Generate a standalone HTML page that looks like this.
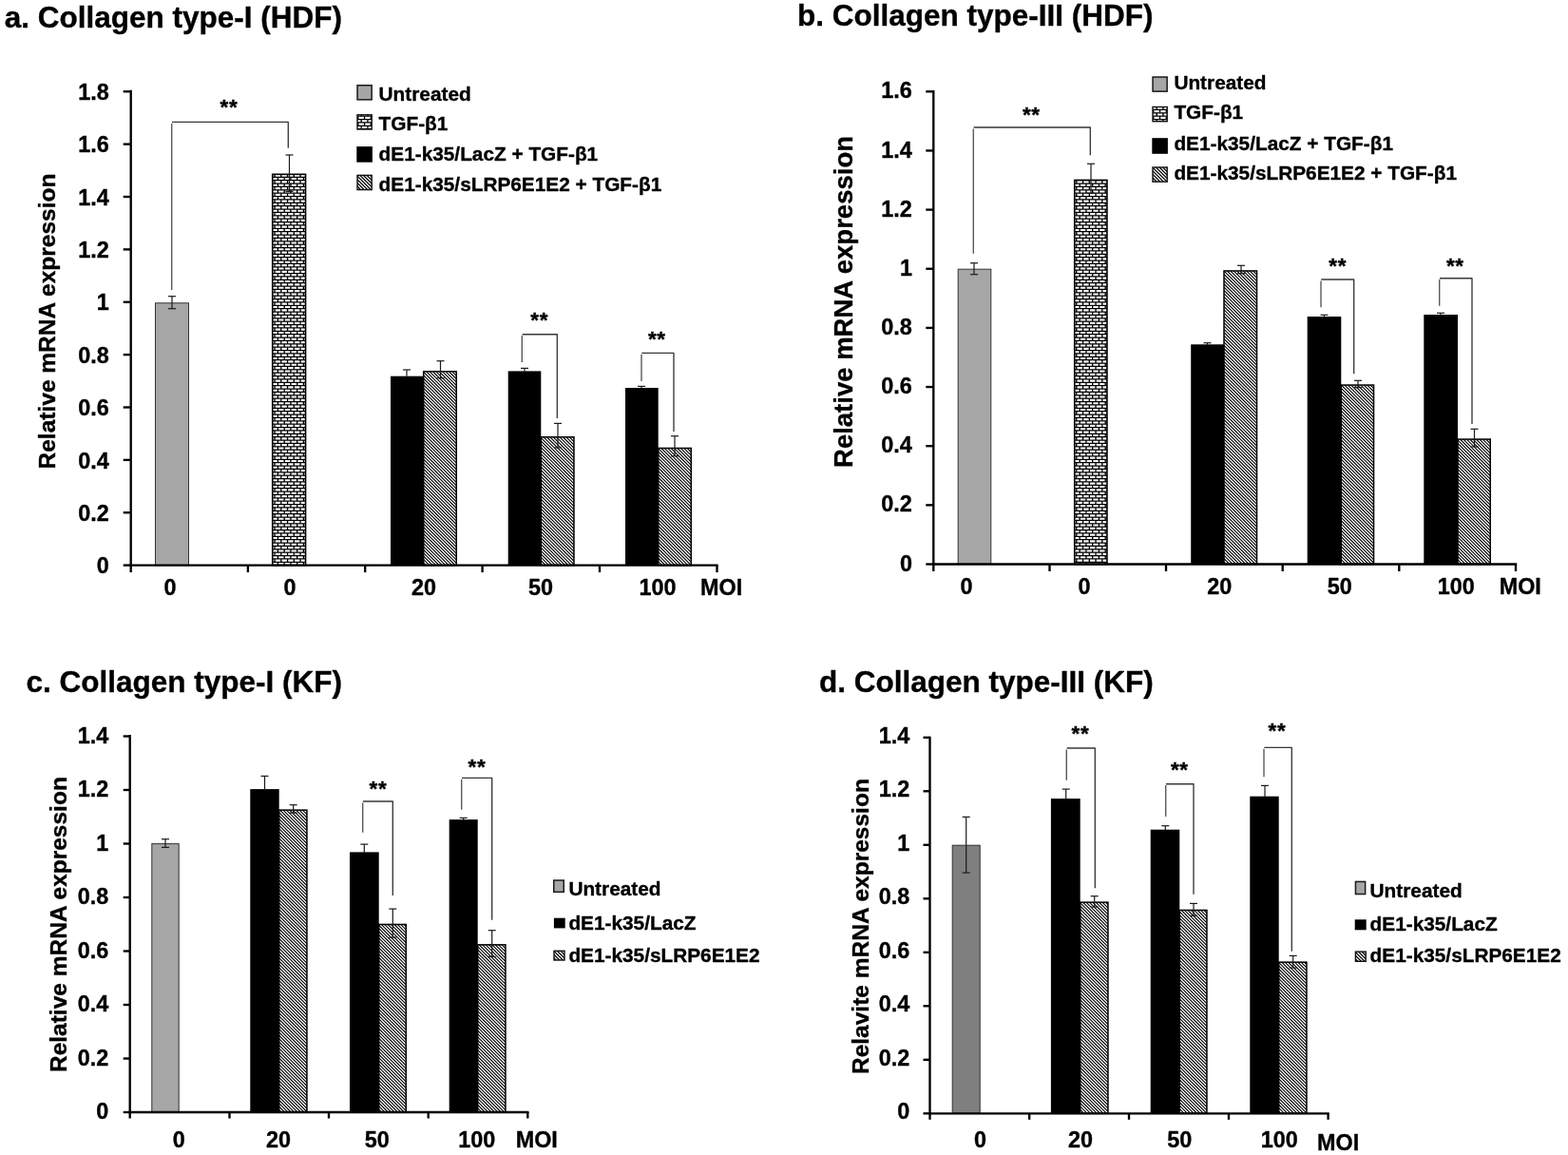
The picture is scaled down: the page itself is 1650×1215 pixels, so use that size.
<!DOCTYPE html>
<html lang="en">
<head>
<meta charset="utf-8">
<title>Collagen mRNA expression</title>
<style>
html,body{margin:0;padding:0;background:#fff;}
body{width:1650px;height:1215px;overflow:hidden;}
svg{display:block;}
svg text{font-family:'Liberation Sans', sans-serif;font-weight:bold;fill:#000;stroke:#000;stroke-width:0.36px;stroke-linejoin:round;}
</style>
</head>
<body>
<svg width="1650" height="1215" viewBox="0 0 1650 1215">
<defs>
<pattern id="brick" width="27.0" height="27.0" patternUnits="userSpaceOnUse" patternTransform="translate(-2,0.0)"><rect width="27.0" height="27.0" fill="#fff"/><path d="M0 0.650H27.0M0 4.025H27.0M0 7.400H27.0M0 10.775H27.0M0 14.150H27.0M0 17.525H27.0M0 20.900H27.0M0 24.275H27.0" stroke="#000" stroke-width="1.2" fill="none"/><path d="M0.800 0.650V4.025M7.550 0.650V4.025M14.300 0.650V4.025M21.050 0.650V4.025M4.175 4.025V7.400M10.925 4.025V7.400M17.675 4.025V7.400M24.425 4.025V7.400M0.800 7.400V10.775M7.550 7.400V10.775M14.300 7.400V10.775M21.050 7.400V10.775M4.175 10.775V14.150M10.925 10.775V14.150M17.675 10.775V14.150M24.425 10.775V14.150M0.800 14.150V17.525M7.550 14.150V17.525M14.300 14.150V17.525M21.050 14.150V17.525M4.175 17.525V20.900M10.925 17.525V20.900M17.675 17.525V20.900M24.425 17.525V20.900M0.800 20.900V24.275M7.550 20.900V24.275M14.300 20.900V24.275M21.050 20.900V24.275M4.175 24.275V27.650M10.925 24.275V27.650M17.675 24.275V27.650M24.425 24.275V27.650" stroke="#000" stroke-width="1.35" fill="none"/></pattern>
<pattern id="hatch" width="17.0" height="17.0" patternUnits="userSpaceOnUse" patternTransform="translate(0.0,0.0)"><rect width="17.0" height="17.0" fill="#fff"/><path d="M-2.00 -22.40L19.00 -1.40M-2.00 -19.00L19.00 2.00M-2.00 -15.60L19.00 5.40M-2.00 -12.20L19.00 8.80M-2.00 -8.80L19.00 12.20M-2.00 -5.40L19.00 15.60M-2.00 -2.00L19.00 19.00M-2.00 1.40L19.00 22.40M-2.00 4.80L19.00 25.80M-2.00 8.20L19.00 29.20M-2.00 11.60L19.00 32.60M-2.00 15.00L19.00 36.00M-2.00 18.40L19.00 39.40" stroke="#000" stroke-width="1.12" fill="none"/></pattern>
<pattern id="hatchL" width="18.0" height="18.0" patternUnits="userSpaceOnUse" patternTransform="translate(0.0,0.0)"><rect width="18.0" height="18.0" fill="#fff"/><path d="M-2.00 -23.60L20.00 -1.60M-2.00 -20.00L20.00 2.00M-2.00 -16.40L20.00 5.60M-2.00 -12.80L20.00 9.20M-2.00 -9.20L20.00 12.80M-2.00 -5.60L20.00 16.40M-2.00 -2.00L20.00 20.00M-2.00 1.60L20.00 23.60M-2.00 5.20L20.00 27.20M-2.00 8.80L20.00 30.80M-2.00 12.40L20.00 34.40M-2.00 16.00L20.00 38.00M-2.00 19.60L20.00 41.60" stroke="#000" stroke-width="1.25" fill="none"/></pattern>
</defs>
<rect width="1650" height="1215" fill="#fff"/>
<text x="4.80" y="28.70" font-size="31.5" text-anchor="start" >a. Collagen type-I (HDF)</text>
<text transform="translate(58.00,338.00) rotate(-90)" font-size="24.5" text-anchor="middle">Relative mRNA expression</text>
<rect x="163.50" y="318.80" width="35.00" height="275.80" fill="#a6a6a6" stroke="#333" stroke-width="1"/>
<line x1="181.00" y1="311.70" x2="181.00" y2="324.70" stroke="#1a1a1a" stroke-width="1.2" />
<line x1="177.00" y1="311.70" x2="185.00" y2="311.70" stroke="#1a1a1a" stroke-width="1.2" />
<line x1="177.00" y1="324.70" x2="185.00" y2="324.70" stroke="#1a1a1a" stroke-width="1.2" />
<rect x="286.75" y="183.35" width="34.80" height="411.25" fill="url(#brick)" stroke="#000" stroke-width="1.6"/>
<line x1="304.50" y1="163.00" x2="304.50" y2="201.40" stroke="#1a1a1a" stroke-width="1.2" />
<line x1="300.50" y1="163.00" x2="308.50" y2="163.00" stroke="#1a1a1a" stroke-width="1.2" />
<line x1="300.50" y1="201.40" x2="308.50" y2="201.40" stroke="#1a1a1a" stroke-width="1.2" />
<rect x="411.00" y="395.70" width="34.70" height="198.90" fill="#000"/>
<line x1="428.00" y1="389.00" x2="428.00" y2="395.70" stroke="#1a1a1a" stroke-width="1.2" />
<line x1="424.00" y1="389.00" x2="432.00" y2="389.00" stroke="#1a1a1a" stroke-width="1.2" />
<rect x="445.70" y="390.75" width="34.55" height="203.85" fill="url(#hatch)" stroke="#000" stroke-width="1.5"/>
<line x1="463.50" y1="379.70" x2="463.50" y2="397.70" stroke="#1a1a1a" stroke-width="1.2" />
<line x1="459.50" y1="379.70" x2="467.50" y2="379.70" stroke="#1a1a1a" stroke-width="1.2" />
<line x1="459.50" y1="397.70" x2="467.50" y2="397.70" stroke="#1a1a1a" stroke-width="1.2" />
<rect x="534.70" y="390.40" width="34.60" height="204.20" fill="#000"/>
<line x1="552.00" y1="387.40" x2="552.00" y2="390.70" stroke="#1a1a1a" stroke-width="1.2" />
<line x1="548.00" y1="387.40" x2="556.00" y2="387.40" stroke="#1a1a1a" stroke-width="1.2" />
<rect x="569.30" y="459.75" width="34.65" height="134.85" fill="url(#hatch)" stroke="#000" stroke-width="1.5"/>
<line x1="587.00" y1="445.40" x2="587.00" y2="471.00" stroke="#1a1a1a" stroke-width="1.2" />
<line x1="583.00" y1="445.40" x2="591.00" y2="445.40" stroke="#1a1a1a" stroke-width="1.2" />
<line x1="583.00" y1="471.00" x2="591.00" y2="471.00" stroke="#1a1a1a" stroke-width="1.2" />
<rect x="658.00" y="408.00" width="34.70" height="186.60" fill="#000"/>
<line x1="675.00" y1="406.40" x2="675.00" y2="408.70" stroke="#1a1a1a" stroke-width="1.2" />
<line x1="671.00" y1="406.40" x2="679.00" y2="406.40" stroke="#1a1a1a" stroke-width="1.2" />
<rect x="692.70" y="471.45" width="34.55" height="123.15" fill="url(#hatch)" stroke="#000" stroke-width="1.5"/>
<line x1="710.00" y1="458.70" x2="710.00" y2="479.70" stroke="#1a1a1a" stroke-width="1.2" />
<line x1="706.00" y1="458.70" x2="714.00" y2="458.70" stroke="#1a1a1a" stroke-width="1.2" />
<line x1="706.00" y1="479.70" x2="714.00" y2="479.70" stroke="#1a1a1a" stroke-width="1.2" />
<polyline points="181.00,128.30 303.30,128.30 303.30,155.70" fill="none" stroke="#383838" stroke-width="1.35" stroke-linejoin="round"/>
<line x1="180.70" y1="129.70" x2="180.70" y2="305.00" stroke="#5a5a5a" stroke-width="1.4" />
<text x="241.05" y="119.90" font-size="22.5" text-anchor="middle" letter-spacing="0.7" stroke-width="0.2">**</text>
<polyline points="549.60,351.70 586.30,351.70 586.30,440.00" fill="none" stroke="#383838" stroke-width="1.35" stroke-linejoin="round"/>
<line x1="549.30" y1="353.10" x2="549.30" y2="381.00" stroke="#5a5a5a" stroke-width="1.4" />
<text x="567.65" y="344.40" font-size="22.5" text-anchor="middle" letter-spacing="0.7" stroke-width="0.2">**</text>
<polyline points="675.30,371.30 709.00,371.30 709.00,454.00" fill="none" stroke="#383838" stroke-width="1.35" stroke-linejoin="round"/>
<line x1="675.00" y1="372.70" x2="675.00" y2="401.00" stroke="#5a5a5a" stroke-width="1.4" />
<text x="691.35" y="364.40" font-size="22.5" text-anchor="middle" letter-spacing="0.7" stroke-width="0.2">**</text>
<text x="179.00" y="625.50" font-size="23.4" text-anchor="middle" >0</text>
<text x="305.00" y="625.50" font-size="23.4" text-anchor="middle" >0</text>
<text x="446.00" y="625.50" font-size="23.4" text-anchor="middle" >20</text>
<text x="569.00" y="625.50" font-size="23.4" text-anchor="middle" >50</text>
<text x="692.00" y="625.50" font-size="23.4" text-anchor="middle" >100</text>
<text x="737.00" y="625.50" font-size="23.4" text-anchor="start" >MOI</text>
<line x1="137.70" y1="94.83" x2="137.70" y2="595.77" stroke="#000" stroke-width="2.35" />
<line x1="136.52" y1="594.60" x2="755.67" y2="594.60" stroke="#000" stroke-width="2.35" />
<line x1="129.70" y1="594.60" x2="137.70" y2="594.60" stroke="#000" stroke-width="2.35" />
<text x="114.70" y="603.30" font-size="23.4" text-anchor="end" >0</text>
<line x1="129.70" y1="539.23" x2="137.70" y2="539.23" stroke="#000" stroke-width="2.35" />
<text x="114.70" y="547.93" font-size="23.4" text-anchor="end" >0.2</text>
<line x1="129.70" y1="483.86" x2="137.70" y2="483.86" stroke="#000" stroke-width="2.35" />
<text x="114.70" y="492.56" font-size="23.4" text-anchor="end" >0.4</text>
<line x1="129.70" y1="428.49" x2="137.70" y2="428.49" stroke="#000" stroke-width="2.35" />
<text x="114.70" y="437.19" font-size="23.4" text-anchor="end" >0.6</text>
<line x1="129.70" y1="373.12" x2="137.70" y2="373.12" stroke="#000" stroke-width="2.35" />
<text x="114.70" y="381.82" font-size="23.4" text-anchor="end" >0.8</text>
<line x1="129.70" y1="317.75" x2="137.70" y2="317.75" stroke="#000" stroke-width="2.35" />
<text x="114.70" y="326.45" font-size="23.4" text-anchor="end" >1</text>
<line x1="129.70" y1="262.38" x2="137.70" y2="262.38" stroke="#000" stroke-width="2.35" />
<text x="114.70" y="271.08" font-size="23.4" text-anchor="end" >1.2</text>
<line x1="129.70" y1="207.01" x2="137.70" y2="207.01" stroke="#000" stroke-width="2.35" />
<text x="114.70" y="215.71" font-size="23.4" text-anchor="end" >1.4</text>
<line x1="129.70" y1="151.64" x2="137.70" y2="151.64" stroke="#000" stroke-width="2.35" />
<text x="114.70" y="160.34" font-size="23.4" text-anchor="end" >1.6</text>
<line x1="129.70" y1="96.27" x2="137.70" y2="96.27" stroke="#000" stroke-width="2.35" />
<text x="114.70" y="104.97" font-size="23.4" text-anchor="end" >1.8</text>
<line x1="137.70" y1="594.60" x2="137.70" y2="602.10" stroke="#000" stroke-width="2.35" />
<line x1="260.90" y1="594.60" x2="260.90" y2="602.10" stroke="#000" stroke-width="2.35" />
<line x1="384.20" y1="594.60" x2="384.20" y2="602.10" stroke="#000" stroke-width="2.35" />
<line x1="507.60" y1="594.60" x2="507.60" y2="602.10" stroke="#000" stroke-width="2.35" />
<line x1="631.00" y1="594.60" x2="631.00" y2="602.10" stroke="#000" stroke-width="2.35" />
<line x1="754.50" y1="594.60" x2="754.50" y2="602.10" stroke="#000" stroke-width="2.35" />
<rect x="376.05" y="89.75" width="15.10" height="15.10" fill="#a6a6a6" stroke="#1a1a1a" stroke-width="1.5"/>
<text x="398.60" y="105.80" font-size="20.8" text-anchor="start" >Untreated</text>
<rect x="376.00" y="120.80" width="15.20" height="15.20" fill="url(#brick)" stroke="#111" stroke-width="1.4"/>
<text x="398.60" y="136.90" font-size="20.8" text-anchor="start" >TGF-β1</text>
<rect x="375.30" y="154.10" width="16.60" height="16.60" fill="#000"/>
<text x="398.60" y="169.20" font-size="20.8" text-anchor="start" >dE1-k35/LacZ + TGF-β1</text>
<rect x="376.00" y="184.40" width="15.20" height="15.20" fill="url(#hatchL)" stroke="#111" stroke-width="1.4"/>
<text x="398.60" y="200.90" font-size="20.8" text-anchor="start" >dE1-k35/sLRP6E1E2 + TGF-β1</text>
<text x="839.00" y="27.20" font-size="31.5" text-anchor="start" >b. Collagen type-III (HDF)</text>
<text transform="translate(897.00,317.50) rotate(-90)" font-size="27.5" text-anchor="middle">Relative mRNA expression</text>
<rect x="1008.20" y="283.20" width="34.60" height="310.30" fill="#a6a6a6" stroke="#333" stroke-width="1"/>
<line x1="1025.00" y1="276.70" x2="1025.00" y2="288.70" stroke="#1a1a1a" stroke-width="1.2" />
<line x1="1021.00" y1="276.70" x2="1029.00" y2="276.70" stroke="#1a1a1a" stroke-width="1.2" />
<line x1="1021.00" y1="288.70" x2="1029.00" y2="288.70" stroke="#1a1a1a" stroke-width="1.2" />
<rect x="1130.75" y="189.45" width="34.20" height="404.05" fill="url(#brick)" stroke="#000" stroke-width="1.6"/>
<line x1="1148.00" y1="172.30" x2="1148.00" y2="203.30" stroke="#1a1a1a" stroke-width="1.2" />
<line x1="1144.00" y1="172.30" x2="1152.00" y2="172.30" stroke="#1a1a1a" stroke-width="1.2" />
<line x1="1144.00" y1="203.30" x2="1152.00" y2="203.30" stroke="#1a1a1a" stroke-width="1.2" />
<rect x="1253.20" y="362.30" width="34.80" height="231.20" fill="#000"/>
<line x1="1270.50" y1="360.70" x2="1270.50" y2="363.00" stroke="#1a1a1a" stroke-width="1.2" />
<line x1="1266.50" y1="360.70" x2="1274.50" y2="360.70" stroke="#1a1a1a" stroke-width="1.2" />
<rect x="1288.00" y="284.95" width="34.55" height="308.55" fill="url(#hatch)" stroke="#000" stroke-width="1.5"/>
<line x1="1306.00" y1="279.30" x2="1306.00" y2="287.70" stroke="#1a1a1a" stroke-width="1.2" />
<line x1="1302.00" y1="279.30" x2="1310.00" y2="279.30" stroke="#1a1a1a" stroke-width="1.2" />
<line x1="1302.00" y1="287.70" x2="1310.00" y2="287.70" stroke="#1a1a1a" stroke-width="1.2" />
<rect x="1375.70" y="333.00" width="35.60" height="260.50" fill="#000"/>
<line x1="1393.50" y1="331.30" x2="1393.50" y2="334.00" stroke="#1a1a1a" stroke-width="1.2" />
<line x1="1389.50" y1="331.30" x2="1397.50" y2="331.30" stroke="#1a1a1a" stroke-width="1.2" />
<rect x="1411.30" y="405.05" width="34.25" height="188.45" fill="url(#hatch)" stroke="#000" stroke-width="1.5"/>
<line x1="1429.00" y1="400.30" x2="1429.00" y2="407.70" stroke="#1a1a1a" stroke-width="1.2" />
<line x1="1425.00" y1="400.30" x2="1433.00" y2="400.30" stroke="#1a1a1a" stroke-width="1.2" />
<line x1="1425.00" y1="407.70" x2="1433.00" y2="407.70" stroke="#1a1a1a" stroke-width="1.2" />
<rect x="1498.30" y="331.00" width="35.70" height="262.50" fill="#000"/>
<line x1="1516.00" y1="329.30" x2="1516.00" y2="332.00" stroke="#1a1a1a" stroke-width="1.2" />
<line x1="1512.00" y1="329.30" x2="1520.00" y2="329.30" stroke="#1a1a1a" stroke-width="1.2" />
<rect x="1534.00" y="462.05" width="34.25" height="131.45" fill="url(#hatch)" stroke="#000" stroke-width="1.5"/>
<line x1="1551.50" y1="451.30" x2="1551.50" y2="470.00" stroke="#1a1a1a" stroke-width="1.2" />
<line x1="1547.50" y1="451.30" x2="1555.50" y2="451.30" stroke="#1a1a1a" stroke-width="1.2" />
<line x1="1547.50" y1="470.00" x2="1555.50" y2="470.00" stroke="#1a1a1a" stroke-width="1.2" />
<polyline points="1024.60,134.00 1147.30,134.00 1147.30,163.30" fill="none" stroke="#383838" stroke-width="1.35" stroke-linejoin="round"/>
<line x1="1024.30" y1="135.40" x2="1024.30" y2="266.70" stroke="#5a5a5a" stroke-width="1.4" />
<text x="1085.35" y="127.90" font-size="22.5" text-anchor="middle" letter-spacing="0.7" stroke-width="0.2">**</text>
<polyline points="1390.30,294.00 1424.70,294.00 1424.70,393.30" fill="none" stroke="#383838" stroke-width="1.35" stroke-linejoin="round"/>
<line x1="1390.00" y1="295.40" x2="1390.00" y2="323.30" stroke="#5a5a5a" stroke-width="1.4" />
<text x="1407.65" y="287.40" font-size="22.5" text-anchor="middle" letter-spacing="0.7" stroke-width="0.2">**</text>
<polyline points="1515.00,292.70 1549.00,292.70 1549.00,446.00" fill="none" stroke="#383838" stroke-width="1.35" stroke-linejoin="round"/>
<line x1="1514.70" y1="294.10" x2="1514.70" y2="321.70" stroke="#5a5a5a" stroke-width="1.4" />
<text x="1531.35" y="286.90" font-size="22.5" text-anchor="middle" letter-spacing="0.7" stroke-width="0.2">**</text>
<text x="1017.00" y="624.70" font-size="23.4" text-anchor="middle" >0</text>
<text x="1141.00" y="624.70" font-size="23.4" text-anchor="middle" >0</text>
<text x="1283.30" y="624.70" font-size="23.4" text-anchor="middle" >20</text>
<text x="1409.70" y="624.70" font-size="23.4" text-anchor="middle" >50</text>
<text x="1532.30" y="624.70" font-size="23.4" text-anchor="middle" >100</text>
<text x="1577.70" y="624.70" font-size="23.4" text-anchor="start" >MOI</text>
<line x1="982.30" y1="95.12" x2="982.30" y2="594.67" stroke="#000" stroke-width="2.35" />
<line x1="981.12" y1="593.50" x2="1596.17" y2="593.50" stroke="#000" stroke-width="2.35" />
<line x1="974.30" y1="593.50" x2="982.30" y2="593.50" stroke="#000" stroke-width="2.35" />
<text x="959.90" y="600.60" font-size="23.4" text-anchor="end" >0</text>
<line x1="974.30" y1="531.35" x2="982.30" y2="531.35" stroke="#000" stroke-width="2.35" />
<text x="959.90" y="538.45" font-size="23.4" text-anchor="end" >0.2</text>
<line x1="974.30" y1="469.20" x2="982.30" y2="469.20" stroke="#000" stroke-width="2.35" />
<text x="959.90" y="476.30" font-size="23.4" text-anchor="end" >0.4</text>
<line x1="974.30" y1="407.05" x2="982.30" y2="407.05" stroke="#000" stroke-width="2.35" />
<text x="959.90" y="414.15" font-size="23.4" text-anchor="end" >0.6</text>
<line x1="974.30" y1="344.90" x2="982.30" y2="344.90" stroke="#000" stroke-width="2.35" />
<text x="959.90" y="352.00" font-size="23.4" text-anchor="end" >0.8</text>
<line x1="974.30" y1="282.75" x2="982.30" y2="282.75" stroke="#000" stroke-width="2.35" />
<text x="959.90" y="289.85" font-size="23.4" text-anchor="end" >1</text>
<line x1="974.30" y1="220.60" x2="982.30" y2="220.60" stroke="#000" stroke-width="2.35" />
<text x="959.90" y="227.70" font-size="23.4" text-anchor="end" >1.2</text>
<line x1="974.30" y1="158.45" x2="982.30" y2="158.45" stroke="#000" stroke-width="2.35" />
<text x="959.90" y="165.55" font-size="23.4" text-anchor="end" >1.4</text>
<line x1="974.30" y1="96.30" x2="982.30" y2="96.30" stroke="#000" stroke-width="2.35" />
<text x="959.90" y="103.40" font-size="23.4" text-anchor="end" >1.6</text>
<line x1="982.30" y1="593.50" x2="982.30" y2="601.00" stroke="#000" stroke-width="2.35" />
<line x1="1104.50" y1="593.50" x2="1104.50" y2="601.00" stroke="#000" stroke-width="2.35" />
<line x1="1227.00" y1="593.50" x2="1227.00" y2="601.00" stroke="#000" stroke-width="2.35" />
<line x1="1349.70" y1="593.50" x2="1349.70" y2="601.00" stroke="#000" stroke-width="2.35" />
<line x1="1472.30" y1="593.50" x2="1472.30" y2="601.00" stroke="#000" stroke-width="2.35" />
<line x1="1595.00" y1="593.50" x2="1595.00" y2="601.00" stroke="#000" stroke-width="2.35" />
<rect x="1213.05" y="81.05" width="15.10" height="15.10" fill="#a6a6a6" stroke="#1a1a1a" stroke-width="1.5"/>
<text x="1235.40" y="93.80" font-size="20.8" text-anchor="start" >Untreated</text>
<rect x="1213.00" y="112.50" width="15.20" height="15.20" fill="url(#brick)" stroke="#111" stroke-width="1.4"/>
<text x="1235.40" y="125.00" font-size="20.8" text-anchor="start" >TGF-β1</text>
<rect x="1212.30" y="145.20" width="16.60" height="16.60" fill="#000"/>
<text x="1235.40" y="158.40" font-size="20.8" text-anchor="start" >dE1-k35/LacZ + TGF-β1</text>
<rect x="1213.00" y="176.00" width="15.20" height="15.20" fill="url(#hatchL)" stroke="#111" stroke-width="1.4"/>
<text x="1235.40" y="189.20" font-size="20.8" text-anchor="start" >dE1-k35/sLRP6E1E2 + TGF-β1</text>
<text x="27.50" y="727.50" font-size="31.5" text-anchor="start" >c. Collagen type-I (KF)</text>
<text transform="translate(70.20,972.60) rotate(-90)" font-size="24.5" text-anchor="middle">Relative mRNA expression</text>
<rect x="159.80" y="887.60" width="28.40" height="282.40" fill="#a6a6a6" stroke="#333" stroke-width="1"/>
<line x1="174.00" y1="882.70" x2="174.00" y2="891.40" stroke="#1a1a1a" stroke-width="1.2" />
<line x1="170.00" y1="882.70" x2="178.00" y2="882.70" stroke="#1a1a1a" stroke-width="1.2" />
<line x1="170.00" y1="891.40" x2="178.00" y2="891.40" stroke="#1a1a1a" stroke-width="1.2" />
<rect x="263.30" y="830.10" width="30.40" height="339.90" fill="#000"/>
<line x1="278.50" y1="816.40" x2="278.50" y2="830.40" stroke="#1a1a1a" stroke-width="1.2" />
<line x1="274.50" y1="816.40" x2="282.50" y2="816.40" stroke="#1a1a1a" stroke-width="1.2" />
<rect x="293.70" y="852.15" width="29.25" height="317.85" fill="url(#hatch)" stroke="#000" stroke-width="1.5"/>
<line x1="308.70" y1="846.70" x2="308.70" y2="855.10" stroke="#1a1a1a" stroke-width="1.2" />
<line x1="304.70" y1="846.70" x2="312.70" y2="846.70" stroke="#1a1a1a" stroke-width="1.2" />
<line x1="304.70" y1="855.10" x2="312.70" y2="855.10" stroke="#1a1a1a" stroke-width="1.2" />
<rect x="368.00" y="896.40" width="30.70" height="273.60" fill="#000"/>
<line x1="383.30" y1="888.10" x2="383.30" y2="897.40" stroke="#1a1a1a" stroke-width="1.2" />
<line x1="379.30" y1="888.10" x2="387.30" y2="888.10" stroke="#1a1a1a" stroke-width="1.2" />
<rect x="398.70" y="972.45" width="28.55" height="197.55" fill="url(#hatch)" stroke="#000" stroke-width="1.5"/>
<line x1="413.30" y1="956.10" x2="413.30" y2="986.10" stroke="#1a1a1a" stroke-width="1.2" />
<line x1="409.30" y1="956.10" x2="417.30" y2="956.10" stroke="#1a1a1a" stroke-width="1.2" />
<line x1="409.30" y1="986.10" x2="417.30" y2="986.10" stroke="#1a1a1a" stroke-width="1.2" />
<rect x="472.70" y="862.10" width="30.00" height="307.90" fill="#000"/>
<line x1="487.70" y1="860.40" x2="487.70" y2="862.40" stroke="#1a1a1a" stroke-width="1.2" />
<line x1="483.70" y1="860.40" x2="491.70" y2="860.40" stroke="#1a1a1a" stroke-width="1.2" />
<rect x="502.70" y="993.85" width="29.25" height="176.15" fill="url(#hatch)" stroke="#000" stroke-width="1.5"/>
<line x1="517.70" y1="978.70" x2="517.70" y2="1006.40" stroke="#1a1a1a" stroke-width="1.2" />
<line x1="513.70" y1="978.70" x2="521.70" y2="978.70" stroke="#1a1a1a" stroke-width="1.2" />
<line x1="513.70" y1="1006.40" x2="521.70" y2="1006.40" stroke="#1a1a1a" stroke-width="1.2" />
<polyline points="382.00,843.00 413.30,843.00 413.30,942.00" fill="none" stroke="#383838" stroke-width="1.35" stroke-linejoin="round"/>
<line x1="381.70" y1="844.40" x2="381.70" y2="875.70" stroke="#5a5a5a" stroke-width="1.4" />
<text x="398.05" y="837.20" font-size="22.5" text-anchor="middle" letter-spacing="0.7" stroke-width="0.2">**</text>
<polyline points="486.00,818.30 517.70,818.30 517.70,967.70" fill="none" stroke="#383838" stroke-width="1.35" stroke-linejoin="round"/>
<line x1="485.70" y1="819.70" x2="485.70" y2="851.70" stroke="#5a5a5a" stroke-width="1.4" />
<text x="502.05" y="813.70" font-size="22.5" text-anchor="middle" letter-spacing="0.7" stroke-width="0.2">**</text>
<text x="188.30" y="1206.50" font-size="23.4" text-anchor="middle" >0</text>
<text x="293.00" y="1206.50" font-size="23.4" text-anchor="middle" >20</text>
<text x="396.70" y="1206.50" font-size="23.4" text-anchor="middle" >50</text>
<text x="501.70" y="1206.50" font-size="23.4" text-anchor="middle" >100</text>
<text x="542.70" y="1206.50" font-size="23.4" text-anchor="start" >MOI</text>
<line x1="136.70" y1="773.12" x2="136.70" y2="1171.17" stroke="#000" stroke-width="2.35" />
<line x1="135.52" y1="1170.00" x2="556.47" y2="1170.00" stroke="#000" stroke-width="2.35" />
<line x1="129.70" y1="1170.00" x2="136.70" y2="1170.00" stroke="#000" stroke-width="2.35" />
<text x="114.20" y="1177.10" font-size="23.4" text-anchor="end" >0</text>
<line x1="129.70" y1="1113.50" x2="136.70" y2="1113.50" stroke="#000" stroke-width="2.35" />
<text x="114.20" y="1120.60" font-size="23.4" text-anchor="end" >0.2</text>
<line x1="129.70" y1="1057.00" x2="136.70" y2="1057.00" stroke="#000" stroke-width="2.35" />
<text x="114.20" y="1064.10" font-size="23.4" text-anchor="end" >0.4</text>
<line x1="129.70" y1="1000.50" x2="136.70" y2="1000.50" stroke="#000" stroke-width="2.35" />
<text x="114.20" y="1007.60" font-size="23.4" text-anchor="end" >0.6</text>
<line x1="129.70" y1="944.00" x2="136.70" y2="944.00" stroke="#000" stroke-width="2.35" />
<text x="114.20" y="951.10" font-size="23.4" text-anchor="end" >0.8</text>
<line x1="129.70" y1="887.50" x2="136.70" y2="887.50" stroke="#000" stroke-width="2.35" />
<text x="114.20" y="894.60" font-size="23.4" text-anchor="end" >1</text>
<line x1="129.70" y1="831.00" x2="136.70" y2="831.00" stroke="#000" stroke-width="2.35" />
<text x="114.20" y="838.10" font-size="23.4" text-anchor="end" >1.2</text>
<line x1="129.70" y1="774.50" x2="136.70" y2="774.50" stroke="#000" stroke-width="2.35" />
<text x="114.20" y="781.60" font-size="23.4" text-anchor="end" >1.4</text>
<line x1="136.70" y1="1170.00" x2="136.70" y2="1176.50" stroke="#000" stroke-width="2.35" />
<line x1="241.50" y1="1170.00" x2="241.50" y2="1176.50" stroke="#000" stroke-width="2.35" />
<line x1="346.00" y1="1170.00" x2="346.00" y2="1176.50" stroke="#000" stroke-width="2.35" />
<line x1="450.70" y1="1170.00" x2="450.70" y2="1176.50" stroke="#000" stroke-width="2.35" />
<line x1="555.30" y1="1170.00" x2="555.30" y2="1176.50" stroke="#000" stroke-width="2.35" />
<rect x="582.75" y="926.05" width="10.50" height="12.30" fill="#a6a6a6" stroke="#1a1a1a" stroke-width="1.5"/>
<text x="598.40" y="941.70" font-size="20.8" text-anchor="start" >Untreated</text>
<rect x="582.90" y="965.70" width="11.80" height="10.70" fill="#000"/>
<text x="598.40" y="977.70" font-size="20.8" text-anchor="start" >dE1-k35/LacZ</text>
<rect x="583.00" y="1000.30" width="11.00" height="9.70" fill="url(#hatchL)" stroke="#111" stroke-width="1.4"/>
<text x="598.40" y="1011.60" font-size="20.8" text-anchor="start" >dE1-k35/sLRP6E1E2</text>
<text x="862.00" y="727.50" font-size="31.5" text-anchor="start" >d. Collagen type-III (KF)</text>
<text transform="translate(914.00,974.60) rotate(-90)" font-size="24.5" text-anchor="middle">Relavite mRNA expression</text>
<rect x="1002.20" y="889.20" width="29.00" height="282.10" fill="#7f7f7f" stroke="#333" stroke-width="1"/>
<line x1="1016.70" y1="859.40" x2="1016.70" y2="918.10" stroke="#1a1a1a" stroke-width="1.2" />
<line x1="1012.70" y1="859.40" x2="1020.70" y2="859.40" stroke="#1a1a1a" stroke-width="1.2" />
<line x1="1012.70" y1="918.10" x2="1020.70" y2="918.10" stroke="#1a1a1a" stroke-width="1.2" />
<rect x="1105.90" y="840.10" width="30.80" height="331.20" fill="#000"/>
<line x1="1121.70" y1="830.10" x2="1121.70" y2="840.40" stroke="#1a1a1a" stroke-width="1.2" />
<line x1="1117.70" y1="830.10" x2="1125.70" y2="830.10" stroke="#1a1a1a" stroke-width="1.2" />
<rect x="1136.70" y="949.15" width="29.25" height="222.15" fill="url(#hatch)" stroke="#000" stroke-width="1.5"/>
<line x1="1151.70" y1="942.70" x2="1151.70" y2="954.10" stroke="#1a1a1a" stroke-width="1.2" />
<line x1="1147.70" y1="942.70" x2="1155.70" y2="942.70" stroke="#1a1a1a" stroke-width="1.2" />
<line x1="1147.70" y1="954.10" x2="1155.70" y2="954.10" stroke="#1a1a1a" stroke-width="1.2" />
<rect x="1210.70" y="872.70" width="30.60" height="298.60" fill="#000"/>
<line x1="1226.30" y1="868.70" x2="1226.30" y2="873.40" stroke="#1a1a1a" stroke-width="1.2" />
<line x1="1222.30" y1="868.70" x2="1230.30" y2="868.70" stroke="#1a1a1a" stroke-width="1.2" />
<rect x="1241.30" y="957.45" width="28.65" height="213.85" fill="url(#hatch)" stroke="#000" stroke-width="1.5"/>
<line x1="1256.00" y1="950.40" x2="1256.00" y2="963.40" stroke="#1a1a1a" stroke-width="1.2" />
<line x1="1252.00" y1="950.40" x2="1260.00" y2="950.40" stroke="#1a1a1a" stroke-width="1.2" />
<line x1="1252.00" y1="963.40" x2="1260.00" y2="963.40" stroke="#1a1a1a" stroke-width="1.2" />
<rect x="1315.30" y="837.70" width="30.40" height="333.60" fill="#000"/>
<line x1="1331.00" y1="826.40" x2="1331.00" y2="838.40" stroke="#1a1a1a" stroke-width="1.2" />
<line x1="1327.00" y1="826.40" x2="1335.00" y2="826.40" stroke="#1a1a1a" stroke-width="1.2" />
<rect x="1345.70" y="1012.15" width="29.25" height="159.15" fill="url(#hatch)" stroke="#000" stroke-width="1.5"/>
<line x1="1360.70" y1="1005.40" x2="1360.70" y2="1018.10" stroke="#1a1a1a" stroke-width="1.2" />
<line x1="1356.70" y1="1005.40" x2="1364.70" y2="1005.40" stroke="#1a1a1a" stroke-width="1.2" />
<line x1="1356.70" y1="1018.10" x2="1364.70" y2="1018.10" stroke="#1a1a1a" stroke-width="1.2" />
<polyline points="1122.60,787.00 1152.30,787.00 1152.30,934.30" fill="none" stroke="#383838" stroke-width="1.35" stroke-linejoin="round"/>
<line x1="1122.30" y1="788.40" x2="1122.30" y2="820.70" stroke="#5a5a5a" stroke-width="1.4" />
<text x="1137.05" y="779.40" font-size="22.5" text-anchor="middle" letter-spacing="0.7" stroke-width="0.2">**</text>
<polyline points="1227.00,824.70 1256.00,824.70 1256.00,940.70" fill="none" stroke="#383838" stroke-width="1.35" stroke-linejoin="round"/>
<line x1="1226.70" y1="826.10" x2="1226.70" y2="859.00" stroke="#5a5a5a" stroke-width="1.4" />
<text x="1241.35" y="816.90" font-size="22.5" text-anchor="middle" letter-spacing="0.7" stroke-width="0.2">**</text>
<polyline points="1330.30,786.30 1359.30,786.30 1359.30,1000.70" fill="none" stroke="#383838" stroke-width="1.35" stroke-linejoin="round"/>
<line x1="1330.00" y1="787.70" x2="1330.00" y2="817.30" stroke="#5a5a5a" stroke-width="1.4" />
<text x="1344.05" y="775.90" font-size="22.5" text-anchor="middle" letter-spacing="0.7" stroke-width="0.2">**</text>
<text x="1031.60" y="1207.00" font-size="23.4" text-anchor="middle" >0</text>
<text x="1137.00" y="1207.00" font-size="23.4" text-anchor="middle" >20</text>
<text x="1241.30" y="1207.00" font-size="23.4" text-anchor="middle" >50</text>
<text x="1346.30" y="1207.00" font-size="23.4" text-anchor="middle" >100</text>
<text x="1386.00" y="1210.00" font-size="23.4" text-anchor="start" >MOI</text>
<line x1="978.50" y1="774.83" x2="978.50" y2="1172.47" stroke="#000" stroke-width="2.35" />
<line x1="977.33" y1="1171.30" x2="1398.77" y2="1171.30" stroke="#000" stroke-width="2.35" />
<line x1="971.50" y1="1171.30" x2="978.50" y2="1171.30" stroke="#000" stroke-width="2.35" />
<text x="957.30" y="1177.40" font-size="23.4" text-anchor="end" >0</text>
<line x1="971.50" y1="1114.80" x2="978.50" y2="1114.80" stroke="#000" stroke-width="2.35" />
<text x="957.30" y="1120.90" font-size="23.4" text-anchor="end" >0.2</text>
<line x1="971.50" y1="1058.30" x2="978.50" y2="1058.30" stroke="#000" stroke-width="2.35" />
<text x="957.30" y="1064.40" font-size="23.4" text-anchor="end" >0.4</text>
<line x1="971.50" y1="1001.80" x2="978.50" y2="1001.80" stroke="#000" stroke-width="2.35" />
<text x="957.30" y="1007.90" font-size="23.4" text-anchor="end" >0.6</text>
<line x1="971.50" y1="945.30" x2="978.50" y2="945.30" stroke="#000" stroke-width="2.35" />
<text x="957.30" y="951.40" font-size="23.4" text-anchor="end" >0.8</text>
<line x1="971.50" y1="888.80" x2="978.50" y2="888.80" stroke="#000" stroke-width="2.35" />
<text x="957.30" y="894.90" font-size="23.4" text-anchor="end" >1</text>
<line x1="971.50" y1="832.30" x2="978.50" y2="832.30" stroke="#000" stroke-width="2.35" />
<text x="957.30" y="838.40" font-size="23.4" text-anchor="end" >1.2</text>
<line x1="971.50" y1="775.80" x2="978.50" y2="775.80" stroke="#000" stroke-width="2.35" />
<text x="957.30" y="781.90" font-size="23.4" text-anchor="end" >1.4</text>
<line x1="978.50" y1="1171.30" x2="978.50" y2="1177.80" stroke="#000" stroke-width="2.35" />
<line x1="1083.20" y1="1171.30" x2="1083.20" y2="1177.80" stroke="#000" stroke-width="2.35" />
<line x1="1188.00" y1="1171.30" x2="1188.00" y2="1177.80" stroke="#000" stroke-width="2.35" />
<line x1="1293.00" y1="1171.30" x2="1293.00" y2="1177.80" stroke="#000" stroke-width="2.35" />
<line x1="1397.60" y1="1171.30" x2="1397.60" y2="1177.80" stroke="#000" stroke-width="2.35" />
<rect x="1426.45" y="927.45" width="10.20" height="13.10" fill="#a6a6a6" stroke="#1a1a1a" stroke-width="1.5"/>
<text x="1441.60" y="944.30" font-size="20.8" text-anchor="start" >Untreated</text>
<rect x="1425.70" y="967.30" width="12.00" height="11.00" fill="#000"/>
<text x="1441.60" y="978.90" font-size="20.8" text-anchor="start" >dE1-k35/LacZ</text>
<rect x="1426.40" y="1001.10" width="10.80" height="10.20" fill="url(#hatchL)" stroke="#111" stroke-width="1.4"/>
<text x="1441.60" y="1012.40" font-size="20.8" text-anchor="start" >dE1-k35/sLRP6E1E2</text>
</svg>
</body>
</html>
